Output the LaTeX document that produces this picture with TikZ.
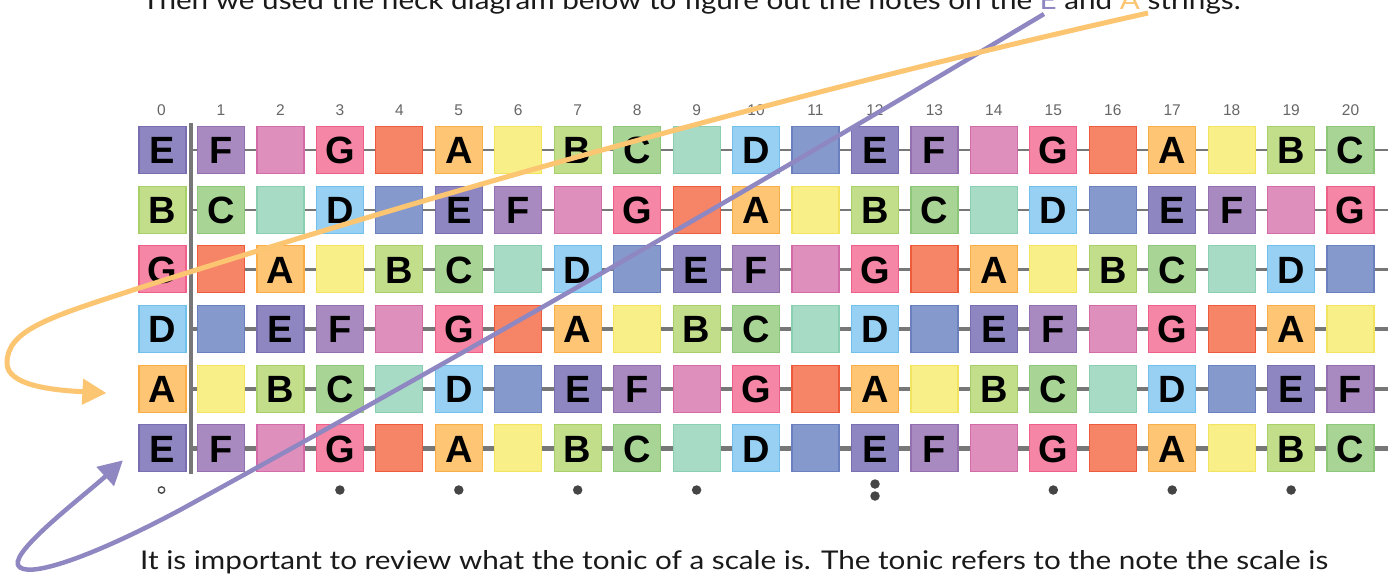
\documentclass[tikz,border=0pt]{standalone}
\usepackage{fontspec}
\setmainfont{Lato}[FakeStretch=1.15]
\newfontfamily\notefont{Liberation Sans}
\usetikzlibrary{arrows.meta}

% fill (c..) and rim (b..) colour of every pitch class
\definecolor{cE}{HTML}{8E86C1}  \definecolor{bE}{HTML}{7A6EB3}
\definecolor{cF}{HTML}{A98AC0}  \definecolor{bF}{HTML}{9470B0}
\definecolor{cFs}{HTML}{DF8FBB} \definecolor{bFs}{HTML}{D46AA8}
\definecolor{cG}{HTML}{F586A5}  \definecolor{bG}{HTML}{EE5F8A}
\definecolor{cGs}{HTML}{F58566} \definecolor{bGs}{HTML}{EE5A3C}
\definecolor{cA}{HTML}{FEC574}  \definecolor{bA}{HTML}{FBAD48}
\definecolor{cAs}{HTML}{F8EF88} \definecolor{bAs}{HTML}{F3E460}
\definecolor{cB}{HTML}{C2DE8A}  \definecolor{bB}{HTML}{A8D068}
\definecolor{cC}{HTML}{A8D596}  \definecolor{bC}{HTML}{8CC77A}
\definecolor{cCs}{HTML}{A8DBC6} \definecolor{bCs}{HTML}{8ACFB2}
\definecolor{cD}{HTML}{97D0F2}  \definecolor{bD}{HTML}{6FC0EB}
\definecolor{cDs}{HTML}{8699CC} \definecolor{bDs}{HTML}{6B80BE}
\definecolor{wire}{HTML}{777777}
\definecolor{dotgray}{HTML}{454545}
\definecolor{lblgray}{HTML}{666666}
\definecolor{ink}{HTML}{1A1A1A}
\definecolor{lineE}{HTML}{8F87C2}
\definecolor{lineA}{HTML}{FCC572}

% pitch class (0 = C) -> colour suffix, and the letter printed on it
\newcommand\pcname[1]{\ifcase#1 C\or Cs\or D\or Ds\or E\or F\or Fs\or G\or Gs\or A\or As\or B\fi}
\newcommand\pcletter[1]{\ifcase#1 C\or\or D\or\or E\or F\or\or G\or\or A\or\or B\fi}

\tikzset{
  notebox/.style={draw=b#1, fill=c#1, line width=1.2pt, minimum size=47pt,
    inner sep=0pt, text height=27.5pt, text depth=0pt, text=black,
    font=\notefont\bfseries\fontsize{38}{38}\selectfont},
  fretnum/.style={inner sep=0pt, text=lblgray, font=\notefont\fontsize{15.5}{15.5}\selectfont},
  inlay/.style={circle, fill=dotgray, inner sep=0pt, minimum size=9.5pt},
  openmark/.style={circle, draw=dotgray, line width=1.3pt, inner sep=0pt, minimum size=6.5pt},
  prose/.style={inner sep=0pt, anchor=base west, text=ink,
    font=\fontsize{25.8}{30}\selectfont},
  guide/.style={line width=#1, -{Triangle[length=24pt,width=25pt]}},
}

\begin{document}
\begin{tikzpicture}[x=1pt,y=-1pt]
\useasboundingbox (0,0) rectangle (1388,574);
\clip (0,0) rectangle (1388,574);
\fill[white] (0,0) rectangle (1388,574);

% strings, thin at the top, heavy at the bottom
\foreach \s/\w in {1/1.8pt,2/2.2pt,3/2.8pt,4/3.6pt,5/4pt,6/4.5pt}{
  \pgfmathsetmacro\yy{150+(\s-1)*59.65}
  \coordinate (str-\s-a) at (189,\yy);
  \coordinate (str-\s-b) at (1392,\yy);
  \draw[wire, line width=\w] (str-\s-a) -- (str-\s-b);
}

% nut
\coordinate (nut-top) at (191,123);
\coordinate (nut-bot) at (191,474);
\draw[wire, line width=4pt] (nut-top) -- (nut-bot);

% fret numbers
\foreach \f in {0,...,20}{
  \pgfmathsetmacro\xx{\f==0 ? 161.5 : 221+(\f-1)*59.45}
  \node[fretnum] (fret-\f) at (\xx,110) {\f};
}

% note squares: strings E B G D A E, frets 0 to 20
\foreach \s/\op in {1/4,2/11,3/7,4/2,5/9,6/4}{
  \foreach \f in {0,...,20}{
    \pgfmathtruncatemacro\pc{mod(\op+\f,12)}
    \pgfmathsetmacro\xx{\f==0 ? 162.5 : 221+(\f-1)*59.45}
    \pgfmathsetmacro\yy{150+(\s-1)*59.65}
    \edef\cn{\pcname{\pc}}
    \node[notebox=\cn] (n-\s-\f) at (\xx,\yy) {\pcletter{\pc}};
  }
}

% position markers under the neck
\node[openmark] (open-0) at (161.5,490) {};
\foreach \f in {3,5,7,9,15,17,19}{
  \pgfmathsetmacro\xx{221+(\f-1)*59.45}
  \node[inlay] (dot-\f) at (\xx,490) {};
}
\node[inlay] (dot-12a) at (875,484) {};
\node[inlay] (dot-12b) at (875,496) {};

% running text
\node[prose] (lead) at (142,9) {Then we used the neck diagram below to figure out the notes on the \textcolor{lineE}{E} and \textcolor{lineA}{A} strings.};
\node[prose] (follow) at (140,569) {It is important to review what the tonic of a scale is. The tonic refers to the note the scale is};

% guides from the coloured letters to the open strings
\coordinate (fromE) at (1044,14);
\coordinate (fromA) at (1148,13);
\draw[lineE, guide=4.5pt] (fromE) .. controls (756,186) and (468,352) .. (180,510)
  .. controls (90,558) and (25,580) .. (18,565)
  .. controls (12,550) and (85,495) .. ([xshift=-15.5pt,yshift=12pt]n-6-0.south west);
\draw[lineA, guide=5pt] (fromA) .. controls (810,89) and (471,182) .. (133,290)
  .. controls (50,317) and (7,330) .. (7,363)
  .. controls (7,385) and (50,390) .. ([xshift=-32pt,yshift=-4.4pt]n-5-0.west);
\end{tikzpicture}
\end{document}
